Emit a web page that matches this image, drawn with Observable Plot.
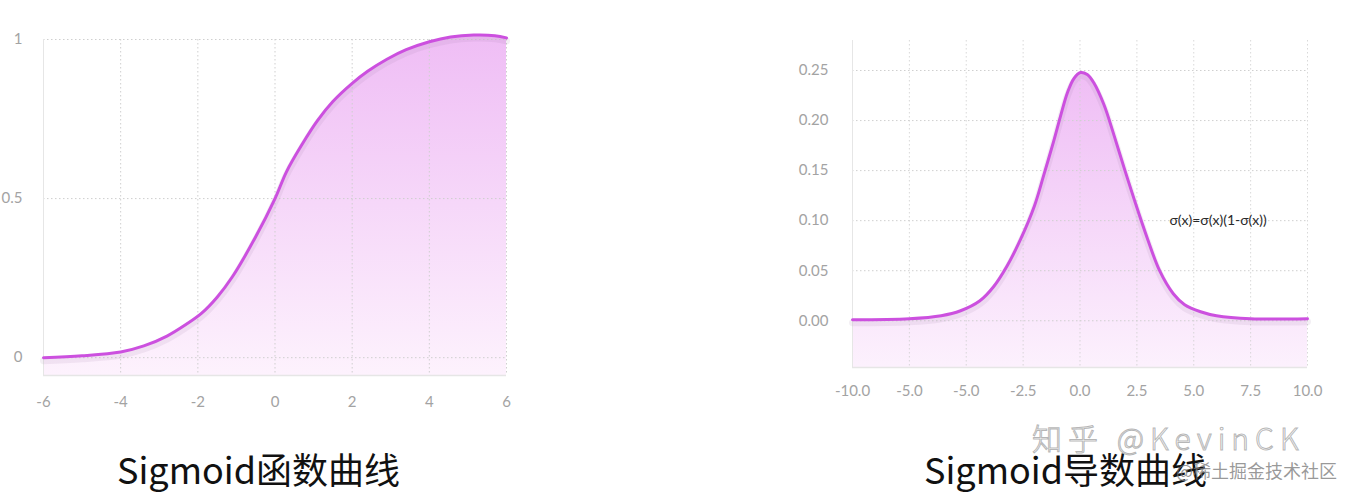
<!DOCTYPE html>
<html>
<head>
<meta charset="utf-8">
<script src="https://cdn.jsdelivr.net/npm/d3@7"></script>
<script src="https://cdn.jsdelivr.net/npm/@observablehq/plot@0.6"></script>
<style>
  html, body { margin: 0; padding: 0; background: #fff; }
  #page { position: relative; width: 1354px; height: 502px; overflow: hidden; background: #fff; }
  .chart { position: absolute; top: 0; }
  .caption { position: absolute; font-family: "Noto Sans CJK SC", "Noto Sans", sans-serif; font-size: 36px; color: #111; white-space: nowrap; line-height: 1; }
  .wm1 { position: absolute; font-family: "Noto Sans CJK SC", sans-serif; font-size: 30px; letter-spacing: 6px; color: rgba(255,255,255,0.5); -webkit-text-stroke: 1px rgba(150,150,150,0.7); white-space: nowrap; line-height: 1; font-weight: 300; }
  .wm2 { position: absolute; font-family: "Noto Sans CJK SC", sans-serif; font-size: 18px; color: rgba(120,120,120,0.75); white-space: nowrap; line-height: 1; }
</style>
</head>
<body>
<div id="page">
  <div id="left" class="chart" style="left:0px"></div>
  <div id="right" class="chart" style="left:780px"></div>
  <div class="caption" style="left:117px; top:450px;">Sigmoid函数曲线</div>
  <div class="caption" style="left:924px; top:450px;">Sigmoid导数曲线</div>
  <div class="wm1" style="left:1032px; top:422px;">知乎 @KevinCK</div>
  <div class="wm2" style="left:1176px; top:461px;">@稀土掘金技术社区</div>
</div>
<script>
// ---- Left chart: Sigmoid function ----
const sigX = [-6, -5, -4, -3.4, -2.8, -2.3, -1.9, -1.5, -1.1, -0.5, 0, 0.3, 0.7, 1.1, 1.5, 2, 2.4, 2.9, 3.4, 4, 4.55, 5.15, 5.7, 6];
const sigY = [0, 0.006, 0.018, 0.037, 0.068, 0.105, 0.14, 0.19, 0.255, 0.38, 0.5, 0.585, 0.67, 0.745, 0.805, 0.862, 0.9, 0.938, 0.968, 0.993, 1.008, 1.014, 1.012, 1.005];
const sigXTicks = [-6, -4, -2, 0, 2, 4, 6];
const sigXLabels = ["-6", "-4", "-2", "0", "2", "4", "6"];
const sigYTicks = [0, 0.5, 1];
const sigYLabels = ["0", "0.5", "1"];

// ---- Right chart: Sigmoid derivative ----
const derX = [-10, -7.5, -6.1, -5.25, -4.4, -3.8, -3.2, -2.6, -2.0, -1.6, -1.15, -0.85, -0.55, -0.27, 0.02, 0.32, 0.6, 1.05, 1.5, 1.95, 2.4, 2.95, 3.5, 4.1, 4.6, 5.3, 6, 7.5, 10];
const derY = [0.001, 0.002, 0.005, 0.01, 0.02, 0.034, 0.055, 0.082, 0.115, 0.145, 0.18, 0.205, 0.228, 0.242, 0.248, 0.246, 0.238, 0.216, 0.185, 0.152, 0.12, 0.083, 0.05, 0.027, 0.016, 0.009, 0.005, 0.002, 0.002];
const derXTicks = [-10, -7.5, -5, -2.5, 0, 2.5, 5, 7.5, 10];
const derXLabels = ["-10.0", "-5.0", "-5.0", "-2.5", "0.0", "2.5", "5.0", "7.5", "10.0"];
const derYTicks = [0, 0.05, 0.1, 0.15, 0.2, 0.25];
const derYLabels = ["0.00", "0.05", "0.10", "0.15", "0.20", "0.25"];
const derNote = "σ(x)=σ(x)(1-σ(x))";
const derNoteX = 6.07, derNoteY = 0.1;

const LINE = "#cc50df";
const GRID = "#cfcfcf";
const FRAME = "#e6e6e6";
const CURVE = "catmull-rom";

function gradient(id, top, bottom) {
  return () => {
    const ns = "http://www.w3.org/2000/svg";
    const defs = document.createElementNS(ns, "defs");
    const lg = document.createElementNS(ns, "linearGradient");
    lg.setAttribute("id", id);
    lg.setAttribute("x1", "0"); lg.setAttribute("y1", "0");
    lg.setAttribute("x2", "0"); lg.setAttribute("y2", "1");
    [[0, top], [1, bottom]].forEach(([o, c]) => {
      const s = document.createElementNS(ns, "stop");
      s.setAttribute("offset", o);
      s.setAttribute("stop-color", c);
      lg.appendChild(s);
    });
    defs.appendChild(lg);
    return defs;
  };
}

const sigData = sigX.map((x, i) => ({x, y: sigY[i]}));
const derData = derX.map((x, i) => ({x, y: derY[i]}));

const sigYMin = -0.056, sigYMax = 1;
const left = Plot.plot({
  width: 530, height: 420,
  marginLeft: 43, marginRight: 24, marginTop: 39, marginBottom: 45,
  style: {fontFamily: "Lato, sans-serif", fontSize: "15px", color: "#a3a3a3", background: "transparent", overflow: "visible"},
  x: {domain: [-6, 6], ticks: sigXTicks, tickFormat: d => sigXLabels[sigXTicks.indexOf(d)], tickSize: 0, tickPadding: 21, label: null},
  y: {domain: [sigYMin, sigYMax], ticks: sigYTicks, tickFormat: d => sigYLabels[sigYTicks.indexOf(d)], tickSize: 0, tickPadding: 21, label: null},
  marks: [
    gradient("gradL", "#efbdf5", "#fdf2fd"),
    Plot.areaY(sigData, {x: "x", y1: sigYMin, y2: "y", fill: "url(#gradL)", curve: CURVE}),
    Plot.ruleX(sigXTicks.slice(1), {stroke: GRID, strokeDasharray: "1.5,2.5", strokeWidth: 1}),
    Plot.ruleY(sigYTicks, {stroke: GRID, strokeDasharray: "1.5,2.5", strokeWidth: 1}),
    Plot.ruleX([-6], {stroke: FRAME}),
    Plot.ruleY([sigYMin], {stroke: FRAME, strokeWidth: 1.5}),
    Plot.line(sigData, {x: "x", y: "y", stroke: "#9c7aa3", strokeOpacity: 0.12, strokeWidth: 7, dy: 3, curve: CURVE}),
    Plot.line(sigData, {x: "x", y: "y", stroke: LINE, strokeWidth: 3, curve: CURVE})
  ]
});
document.getElementById("left").appendChild(left);

const derYMin = -0.0467, derYMax = 0.28;
const right = Plot.plot({
  width: 560, height: 420,
  marginLeft: 72, marginRight: 33, marginTop: 40, marginBottom: 53,
  style: {fontFamily: "Lato, sans-serif", fontSize: "15px", color: "#a3a3a3", background: "transparent", overflow: "visible"},
  x: {domain: [-10, 10], ticks: derXTicks, tickFormat: d => derXLabels[derXTicks.indexOf(d)], tickSize: 0, tickPadding: 18, label: null},
  y: {domain: [derYMin, derYMax], ticks: derYTicks, tickFormat: d => derYLabels[derYTicks.indexOf(d)], tickSize: 0, tickPadding: 24, label: null},
  marks: [
    gradient("gradR", "#efbdf5", "#fcf1fd"),
    Plot.areaY(derData, {x: "x", y1: derYMin, y2: "y", fill: "url(#gradR)", curve: CURVE}),
    Plot.ruleX(derXTicks.slice(1), {stroke: GRID, strokeDasharray: "1.5,2.5", strokeWidth: 1, strokeOpacity: 0.8}),
    Plot.ruleY(derYTicks, {x1: -10, x2: 10, stroke: GRID, strokeDasharray: "1.5,2.5", strokeWidth: 1}),
    Plot.ruleX([-10], {stroke: FRAME}),
    Plot.ruleY([derYMin], {stroke: FRAME, strokeWidth: 1.5}),
    Plot.line(derData, {x: "x", y: "y", stroke: "#9c7aa3", strokeOpacity: 0.12, strokeWidth: 7, dy: 3, curve: CURVE}),
    Plot.line(derData, {x: "x", y: "y", stroke: LINE, strokeWidth: 3, curve: CURVE}),
    Plot.text([derNote], {x: derNoteX, y: derNoteY, text: d => d, fill: "#2a2a2a", fontSize: 14, fontFamily: "Lato, sans-serif"})
  ]
});
document.getElementById("right").appendChild(right);
</script>
</body>
</html>
